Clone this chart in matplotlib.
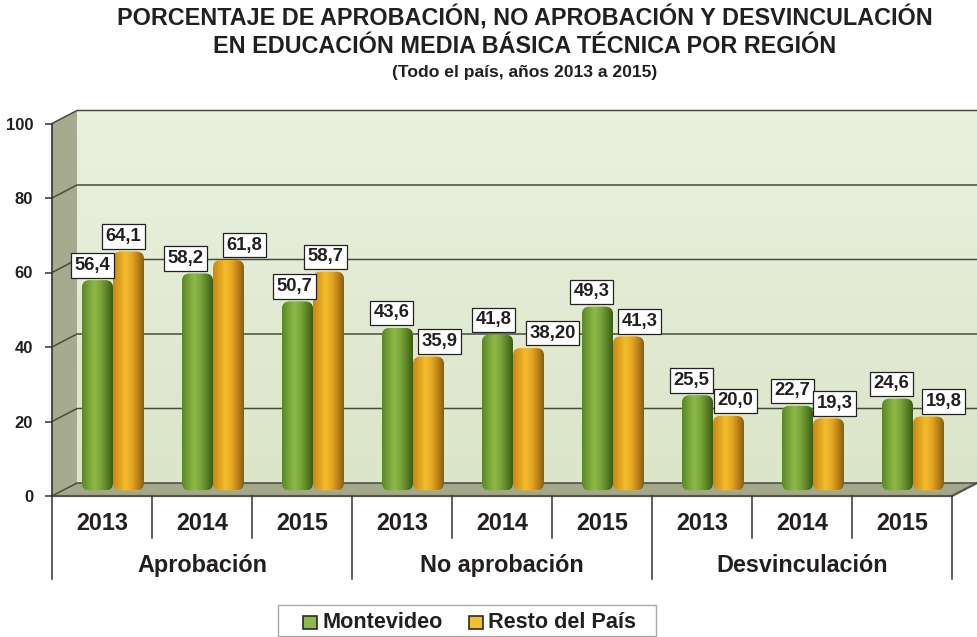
import numpy as np
import matplotlib
matplotlib.use('Agg')
import matplotlib.pyplot as plt
from matplotlib.patches import Polygon, FancyBboxPatch, Rectangle
from matplotlib.colors import LinearSegmentedColormap
import matplotlib.transforms as mtransforms

plt.rcParams['font.family'] = ['Liberation Sans', 'DejaVu Sans']

# ---------------- data ----------------
groups = ['Aprobación', 'No aprobación', 'Desvinculación']
years = ['2013', '2014', '2015']
series_names = ['Montevideo', 'Resto del País']
montevideo = [56.4, 58.2, 50.7, 43.6, 41.8, 49.3, 25.5, 22.7, 24.6]
resto = [64.1, 61.8, 58.7, 35.9, 38.2, 41.3, 20.0, 19.3, 19.8]
montevideo_labels = ['56,4', '58,2', '50,7', '43,6', '41,8', '49,3', '25,5', '22,7', '24,6']
resto_labels = ['64,1', '61,8', '58,7', '35,9', '38,20', '41,3', '20,0', '19,3', '19,8']
yticks = [0, 20, 40, 60, 80, 100]

# ---------------- style ----------------
W, H = 978, 637
TXT = '#231f20'
green_cols = ['#5a8628', '#76a236', '#8cba48', '#7aa63a', '#5c8426', '#3e5e16']
orange_cols = ['#c88a16', '#e0a11f', '#f3bd2b', '#e6a824', '#bf8419', '#87600f']
green_lbl_dx = [-5, -12, -3, -6, -4, -6, -6, -5, -6]
orange_lbl_dx = [-5, 16, -3, 11, 24, 11, 7, 6, 15]

fig = plt.figure(figsize=(W / 100, H / 100), dpi=100)
fig.patch.set_facecolor('white')


def fx(px):
    return px / W


def fy(py):
    return 1 - py / H


PXY = 3.725  # pixels per y unit
ax = fig.add_axes([fx(52), fy(496), 900 / W, 100 * PXY / H])
ax.patch.set_visible(False)
for s in ['top', 'right', 'bottom']:
    ax.spines[s].set_visible(False)
ax.spines['left'].set_linewidth(1.2)
ax.spines['left'].set_color('#333333')
ax.spines['left'].set_zorder(6)

n = len(montevideo)
DX = 0.25
DY = 13 / PXY

# back wall
wall_cmap = LinearSegmentedColormap.from_list('wall', ['#dbe5c8', '#e3ebd4', '#eaf1df'])
ax.imshow(np.linspace(0, 1, 100).reshape(-1, 1), cmap=wall_cmap, origin='lower',
          extent=[DX, n + DX, DY, 100 + DY], aspect='auto', zorder=0, clip_on=False)
# side wall
ax.add_patch(Polygon([(0, 0), (DX, DY), (DX, 100 + DY), (0, 100)], closed=True,
                     facecolor='#a7aa8e', edgecolor='none', zorder=0.5, clip_on=False))
# floor
ax.add_patch(Polygon([(0, 0), (n, 0), (n + DX, DY), (DX, DY)], closed=True,
                     facecolor='#a3a78b', edgecolor='none', zorder=0.6, clip_on=False))
ax.plot([0, n, n + DX], [0, 0, DY], color='#55574a', lw=1.6, zorder=0.7, clip_on=False)

# gridlines
for v in yticks:
    ax.plot([0, DX, n + DX], [v, v + DY, v + DY], color='#4a4c40', lw=1.1,
            zorder=0.8, clip_on=False)

# bars
off = ax.transData + mtransforms.ScaledTranslation(0, 5.6 / 100, fig.dpi_scale_trans)
x = np.arange(n)
bw = 0.31
series = [(montevideo, montevideo_labels, x + 0.455, green_cols, green_lbl_dx, 3),
          (resto, resto_labels, x + 0.765, orange_cols, orange_lbl_dx, 3.5)]
for vals, lbls, xc, cols, ldx, z in series:
    cmap = LinearSegmentedColormap.from_list('c', cols)
    rects = ax.bar(xc, vals, bw, transform=off, zorder=z)
    for r, lbl, dxp in zip(rects, lbls, ldx):
        x0, y0, w, h = r.get_x(), r.get_y(), r.get_width(), r.get_height()
        r.set_visible(False)
        p = FancyBboxPatch((x0, y0), w, h, boxstyle='round,pad=0,rounding_size=0.075',
                           mutation_aspect=100 / PXY, transform=off,
                           facecolor=cols[2], edgecolor='none', zorder=z)
        ax.add_patch(p)
        im = ax.imshow(np.linspace(0, 1, 64).reshape(1, -1), cmap=cmap,
                       extent=[x0, x0 + w, y0, y0 + h], aspect='auto',
                       transform=off, zorder=z + 0.01)
        im.set_clip_path(p)
        ax.annotate(lbl, xy=(x0 + w / 2, h), xycoords=off,
                    xytext=(dxp * 0.72, 15 * 0.72), textcoords='offset points',
                    ha='center', va='center', fontsize=13.3, fontweight='bold',
                    color=TXT, zorder=8,
                    bbox=dict(boxstyle='square,pad=0.2', fc='white', ec='#222222', lw=0.9))

ax.set_xlim(0, n)
ax.set_ylim(0, 100)
ax.set_xticks([])
ax.set_yticks(yticks)
ax.tick_params(axis='y', direction='out', length=5, width=1.1, color='#333333',
               pad=8.6, labelsize=12, labelcolor=TXT)
for t in ax.get_yticklabels():
    t.set_fontweight('bold')

# category axis
ybot = -11.3
ygrp = -22.3
for i in range(n + 1):
    ax.plot([i, i], [0, ygrp if i % 3 == 0 else ybot], color='#333333', lw=1.1,
            clip_on=False, zorder=6)
for i in range(n):
    ax.text(i + 0.5, -7.3, years[i % 3], ha='center', va='center', fontsize=16.8,
            fontweight='bold', color=TXT, clip_on=False)
for g, name in enumerate(groups):
    ax.text(3 * g + 1.5, -18.6, name, ha='center', va='center', fontsize=16.8,
            fontweight='bold', color=TXT, clip_on=False)

# titles
TX = fx(525)
fig.text(TX, fy(18), 'PORCENTAJE DE APROBACIÓN, NO APROBACIÓN Y DESVINCULACIÓN',
         ha='center', va='center', fontsize=16.8, fontweight='bold', color=TXT)
fig.text(TX, fy(46.5), 'EN EDUCACIÓN MEDIA BÁSICA TÉCNICA POR REGIÓN',
         ha='center', va='center', fontsize=16.8, fontweight='bold', color=TXT)
fig.text(TX, fy(72), '(Todo el país, años 2013 a 2015)',
         ha='center', va='center', fontsize=12.6, fontweight='bold', color=TXT)

# legend (manual)
fig.add_artist(Rectangle((fx(278), fy(636)), (656 - 278) / W, (636 - 605) / H,
                         transform=fig.transFigure, facecolor='white',
                         edgecolor='#a8a8a8', lw=1.0))
for xm, xt, cols, name in [(303, 322, green_cols, series_names[0]),
                           (469, 488, orange_cols, series_names[1])]:
    fig.add_artist(Rectangle((fx(xm), fy(629)), 14 / W, 13 / H, transform=fig.transFigure,
                             facecolor=cols[2], edgecolor='#2a2a2a', lw=1.2))
    fig.text(fx(xt), fy(622), name, ha='left', va='center', fontsize=15.6,
             fontweight='bold', color=TXT)

fig.savefig('out.png', dpi=100, facecolor='white')
